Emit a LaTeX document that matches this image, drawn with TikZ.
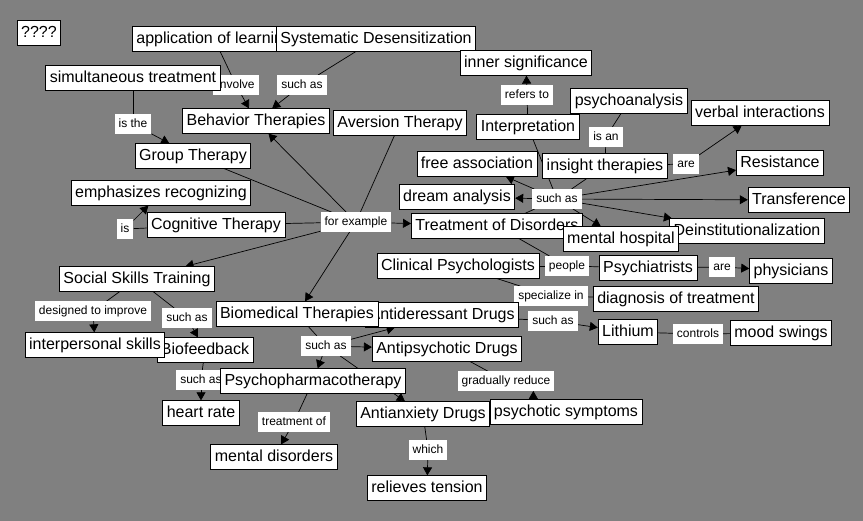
\documentclass[tikz,border=0pt]{standalone}
\usepackage{fontspec}
\setmainfont{Liberation Sans}
\usetikzlibrary{arrows.meta}
\definecolor{mapgray}{RGB}{128,128,128}
\pgfdeclarelayer{back}
\pgfdeclarelayer{links}
\pgfsetlayers{back,links,main}

\begin{document}
\begin{tikzpicture}[x=1pt,y=-1pt,
    concept/.style={draw,fill=white,line width=0.8pt,inner xsep=4pt,inner ysep=4.5pt,
      text height=12pt,text depth=3.5pt,font=\fontsize{16pt}{19pt}\selectfont},
    linkword/.style={fill=white,inner xsep=4pt,inner ysep=4pt,
      text height=9pt,text depth=2.5pt,font=\fontsize{12pt}{14pt}\selectfont},
    arr/.style={-{Triangle[length=8pt,width=9pt]}},
    revarr/.style={{Triangle[length=8pt,width=9pt]}-}]
  \useasboundingbox (0,0) rectangle (863,521);
  \begin{pgfonlayer}{back}
    \fill[mapgray] (0,0) rectangle (863,521);
  \end{pgfonlayer}

  % top left
  \node[concept] (qmarks) at (39,33) {????};
  \node[concept,anchor=west] (applearn) at (132,39) {application of learning};
  \node[concept] (sysdes) at (376,39) {Systematic Desensitization};
  \node[linkword] (involve) at (236,85) {involve};
  \node[concept] (simul) at (133,78) {simultaneous treatment};
  \node[linkword] (suchsys) at (302,85) {such as};
  \node[linkword] (isthe) at (133,124) {is the};
  \node[concept] (behav) at (256,121) {Behavior Therapies};
  \node[concept] (avers) at (400,123) {Aversion Therapy};
  \node[concept] (group) at (193,156) {Group Therapy};
  \node[concept] (emph) at (161,193) {emphasizes recognizing};
  \node[linkword] (iscog) at (125,229) {is};
  \node[concept] (cogn) at (216,225) {Cognitive Therapy};
  \node[linkword] (forex) at (356,222) {for example};

  % top right
  \node[concept] (inner) at (526,63) {inner significance};
  \node[linkword] (refers) at (527,95) {refers to};
  \node[concept] (interp) at (528,127) {Interpretation};
  \node[concept] (psyan) at (629,101) {psychoanalysis};
  \node[linkword] (isan) at (606,137) {is an};
  \node[concept] (verbal) at (760,113) {verbal interactions};
  \node[concept] (freeas) at (477,164) {free association};
  \node[concept] (insight) at (605,166) {insight therapies};
  \node[linkword] (areins) at (686,164) {are};
  \node[concept] (resist) at (780,163) {Resistance};
  \node[concept] (dream) at (457,197) {dream analysis};
  \node[linkword] (suchins) at (557,199) {such as};
  \node[concept] (transf) at (799,200) {Transference};
  \node[concept,anchor=west] (treat) at (411,226) {Treatment of Disorders};
  \node[concept] (deinst) at (747,231) {Deinstitutionalization};
  \node[concept] (menthosp) at (621,239) {mental hospital};

  % middle
  \node[concept] (social) at (137,279) {Social Skills Training};
  \node[concept] (clin) at (458,266) {Clinical Psychologists};
  \node[linkword] (people) at (567,266) {people};
  \node[concept] (psychiat) at (648,268) {Psychiatrists};
  \node[linkword] (arepsy) at (722,267) {are};
  \node[concept] (phys) at (791,271) {physicians};
  \node[linkword] (special) at (551,296) {specialize in};
  \node[concept] (diag) at (676,299) {diagnosis of treatment};
  \node[linkword] (designed) at (93,311) {designed to improve};
  \node[linkword] (suchsoc) at (187,318) {such as};
  \node[concept,anchor=east] (antidep) at (519,315) {Antideressant Drugs};
  \node[concept] (biomed) at (297,314) {Biomedical Therapies};
  \node[linkword] (suchdep) at (553,321) {such as};
  \node[concept] (lith) at (628,332) {Lithium};
  \node[linkword] (controls) at (698,334) {controls};
  \node[concept] (mood) at (781,333) {mood swings};

  % bottom
  \node[concept] (biofb) at (205,350) {Biofeedback};
  \node[concept] (interpsk) at (95,345) {interpersonal skills};
  \node[linkword] (suchbio) at (326,346) {such as};
  \node[concept] (antipsy) at (447,349) {Antipsychotic Drugs};
  \node[linkword] (suchfb) at (201,380) {such as};
  \node[concept] (psyph) at (313,381) {Psychopharmacotherapy};
  \node[linkword] (gradred) at (506,381) {gradually reduce};
  \node[concept] (heart) at (201,413) {heart rate};
  \node[concept] (antianx) at (423,414) {Antianxiety Drugs};
  \node[concept] (psysym) at (566,412) {psychotic symptoms};
  \node[linkword] (treatof) at (294,422) {treatment of};
  \node[linkword] (which) at (428,450) {which};
  \node[concept] (mentdis) at (274,457) {mental disorders};
  \node[concept] (relieves) at (427,488) {relieves tension};

  \begin{pgfonlayer}{links}
  \begin{scope}[line width=0.7pt]
    \draw (applearn) -- (involve);
    \draw[arr] (involve) -- (behav);
    \draw (sysdes) -- (suchsys);
    \draw[arr] (suchsys) -- (behav);
    \draw (simul) -- (isthe);
    \draw[arr] (isthe) -- (group);
    \draw (group) -- (forex);
    \draw (cogn) -- (forex);
    \draw (avers) -- (forex);
    \draw[arr] (forex) -- (behav);
    \draw[arr] (forex) -- (treat);
    \draw[arr] (forex) -- (social);
    \draw[arr] (forex) -- (biomed);
    \draw (cogn) -- (iscog);
    \draw[arr] (iscog) -- (emph);
    \draw (interp) -- (refers);
    \draw[arr] (refers) -- (inner);
    \draw (psyan) -- (isan);
    \draw (isan) -- (insight);
    \draw (insight) -- (areins);
    \draw[arr] (areins) -- (verbal);
    \draw (interp) -- (suchins);
    \draw (insight) -- (suchins);
    \draw (treat) -- (suchins);
    \draw[arr] (suchins) -- (freeas);
    \draw[arr] (suchins) -- (dream);
    \draw[arr] (suchins) -- (resist);
    \draw[arr] (suchins) -- (transf);
    \draw[arr] (suchins) -- (deinst);
    \draw[arr] (suchins) -- (menthosp);
    \draw (treat) -- (people);
    \draw (clin) -- (people);
    \draw (people) -- (psychiat);
    \draw (psychiat) -- (arepsy);
    \draw[arr] (arepsy) -- (phys);
    \draw (clin) -- (special);
    \draw (special) -- (diag);
    \draw (antidep) -- (suchdep);
    \draw[arr] (suchdep) -- (lith);
    \draw (lith) -- (controls);
    \draw (controls) -- (mood);
    \draw (social) -- (designed);
    \draw[arr] (designed) -- (interpsk);
    \draw (social) -- (suchsoc);
    \draw[arr] (suchsoc) -- (biofb);
    \draw (biofb) -- (suchfb);
    \draw[arr] (suchfb) -- (heart);
    \draw (biomed) -- (suchbio);
    \draw[arr] (suchbio) -- (antidep);
    \draw[arr] (suchbio) -- (antipsy);
    \draw[arr] (suchbio) -- (psyph);
    \draw[arr] (suchbio) -- (antianx);
    \draw (psyph) -- (treatof);
    \draw[arr] (treatof) -- (mentdis);
    \draw (antipsy) -- (gradred);
    \draw[revarr] (gradred.-20) -- (gradred.-20 |- psysym.north);
    \draw (antianx) -- (which);
    \draw[arr] (which) -- (relieves);
  \end{scope}
  \end{pgfonlayer}
\end{tikzpicture}
\end{document}
